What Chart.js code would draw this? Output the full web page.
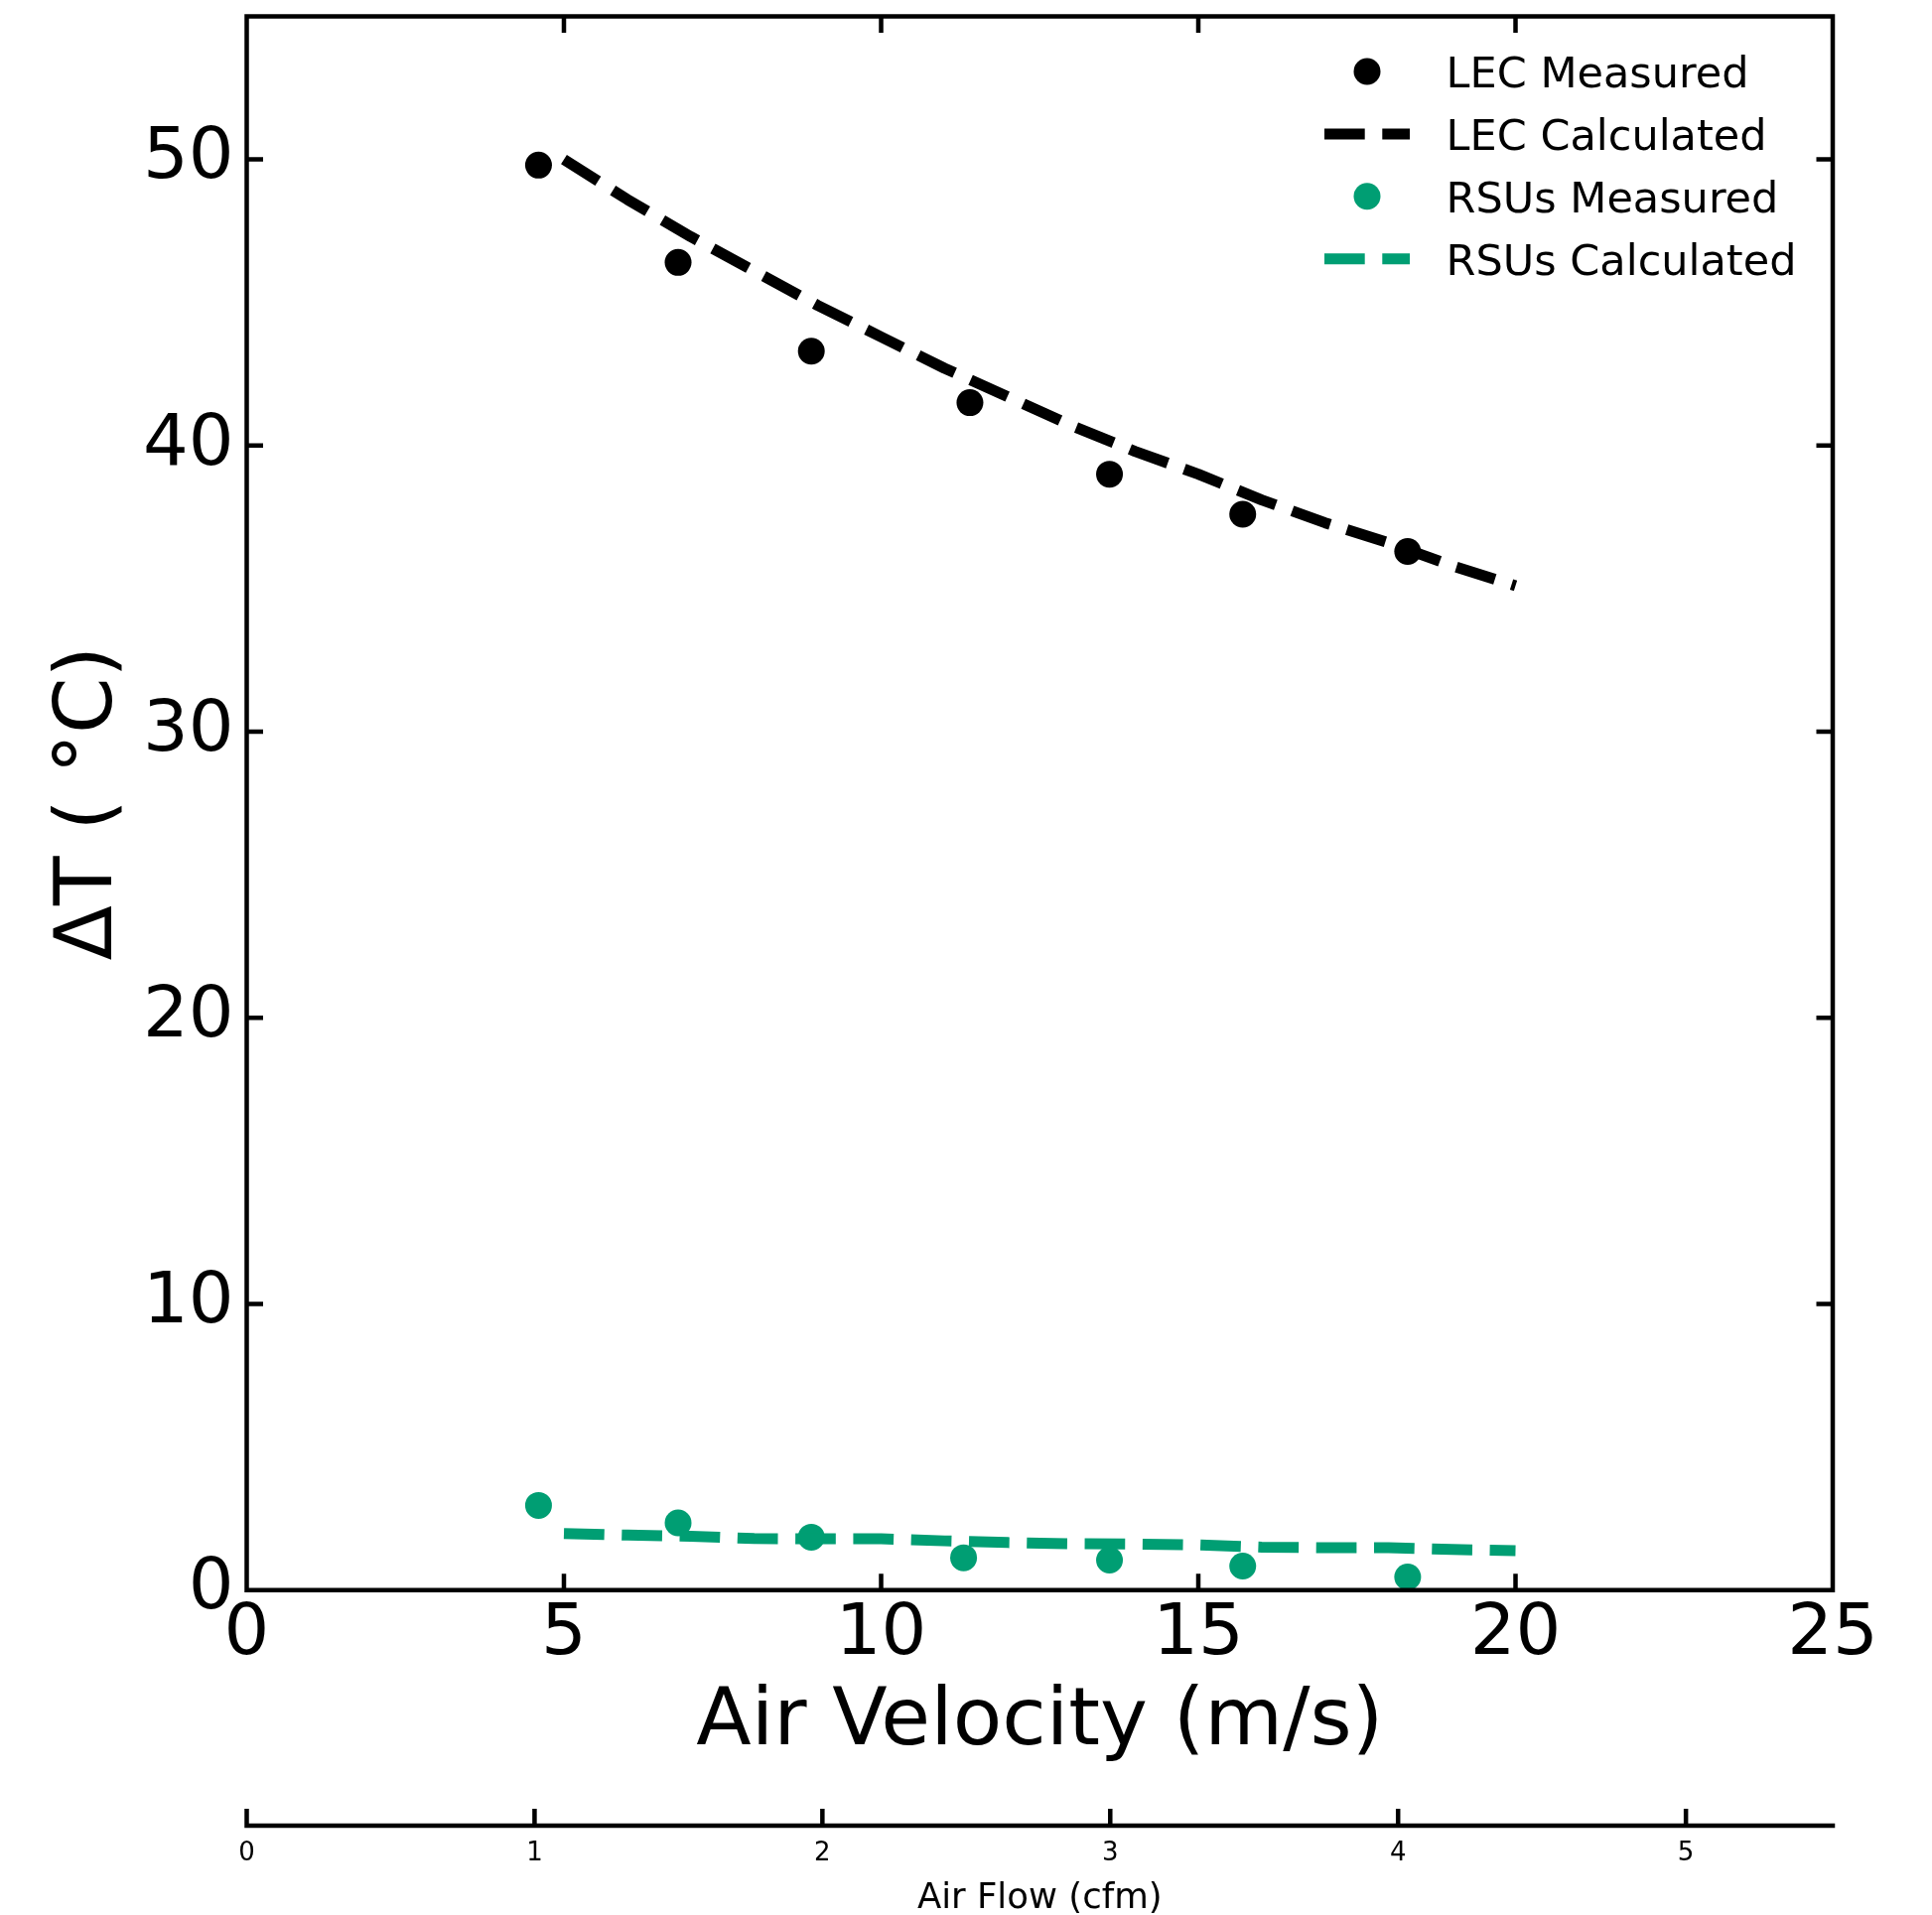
<!DOCTYPE html>
<html>
<head>
<meta charset="utf-8">
<script src="https://cdn.jsdelivr.net/npm/chart.js@4.4.1/dist/chart.umd.min.js"></script>
<style>
html,body{margin:0;padding:0;background:#ffffff;}
canvas{display:block;}
</style>
</head>
<body>
<canvas id="c" width="1946" height="1929"></canvas>
<script>
// ---------------- data ----------------
const lecMeasuredVelocity = [4.6, 6.8, 8.9, 11.4, 13.6, 15.7, 18.3];
const lecMeasured = [49.8, 46.4, 43.3, 41.5, 39.0, 37.6, 36.3];
const rsuMeasuredVelocity = [4.6, 6.8, 8.9, 11.3, 13.6, 15.7, 18.3];
const rsuMeasured = [2.96, 2.35, 1.85, 1.13, 1.05, 0.84, 0.46];
const calcVelocity = [5, 6, 7, 8, 9, 10, 11, 12, 13, 14, 15, 16, 17, 18, 19, 20];
const lecCalculated = [50.0, 48.6, 47.3, 46.1, 44.9, 43.8, 42.7, 41.7, 40.7, 39.8, 39.0, 38.1, 37.3, 36.6, 35.8, 35.1];
const rsuCalculated = [1.98, 1.92, 1.88, 1.80, 1.79, 1.79, 1.72, 1.66, 1.62, 1.61, 1.58, 1.50, 1.48, 1.48, 1.42, 1.38];
const seriesLabels = ['LEC Measured', 'LEC Calculated', 'RSUs Measured', 'RSUs Calculated'];
const xTitle = 'Air Velocity (m/s)';
const yTitle = 'ΔT ( °C)';
const x2Title = 'Air Flow (cfm)';
const xRange = [0, 25], xStep = 5;
const yRange = [0, 55], yStep = 10;
const x2Range = [0, 5.51], x2Step = 1;

// ---------------- styles ----------------
const FONT = "'DejaVu Sans', sans-serif";
const BLACK = '#000000';
const GREEN = '#009E73';
const SPINE = 4.5;
const TICK = 16.5;
const DASH = [40.7, 17.6];

function pts(xs, ys) { return xs.map((x, i) => ({x: x, y: ys[i]})); }

const frame = {
  id: 'frame',
  afterDraw(chart) {
    const {ctx, chartArea: a, scales} = chart;
    ctx.save();
    ctx.strokeStyle = BLACK;
    ctx.lineWidth = SPINE;
    ctx.lineCap = 'butt';
    ctx.setLineDash([]);
    ctx.beginPath();
    ctx.moveTo(a.left - SPINE / 2, a.top); ctx.lineTo(a.right + SPINE / 2, a.top);
    ctx.moveTo(a.left - SPINE / 2, a.bottom); ctx.lineTo(a.right + SPINE / 2, a.bottom);
    ctx.moveTo(a.left, a.top); ctx.lineTo(a.left, a.bottom);
    ctx.moveTo(a.right, a.top); ctx.lineTo(a.right, a.bottom);
    scales.x.ticks.forEach(t => {
      const px = scales.x.getPixelForValue(t.value);
      ctx.moveTo(px, a.bottom); ctx.lineTo(px, a.bottom - TICK);
      ctx.moveTo(px, a.top); ctx.lineTo(px, a.top + TICK);
    });
    scales.y.ticks.forEach(t => {
      const py = scales.y.getPixelForValue(t.value);
      ctx.moveTo(a.left, py); ctx.lineTo(a.left + TICK, py);
      ctx.moveTo(a.right, py); ctx.lineTo(a.right - TICK, py);
    });
    const x2 = scales.x2;
    const ly = x2.top;
    ctx.moveTo(a.left - SPINE / 2, ly); ctx.lineTo(a.right + SPINE / 2, ly);
    x2.ticks.forEach(t => {
      const px = x2.getPixelForValue(t.value);
      ctx.moveTo(px, ly); ctx.lineTo(px, ly - 17);
    });
    ctx.stroke();

    // legend
    const sampleL = a.right - 512, sampleR = a.right - 426, textX = a.right - 389.4;
    ctx.font = '43px ' + FONT;
    ctx.textBaseline = 'alphabetic';
    ctx.textAlign = 'left';
    chart.data.datasets.forEach((ds, i) => {
      const base = 88 + 62.9 * i;
      const cy = base - 16;
      if (ds.showLine) {
        ctx.save();
        ctx.strokeStyle = ds.borderColor;
        ctx.lineWidth = ds.borderWidth;
        ctx.setLineDash(ds.borderDash);
        ctx.beginPath();
        ctx.moveTo(sampleL, cy); ctx.lineTo(sampleR, cy);
        ctx.stroke();
        ctx.restore();
      } else {
        ctx.fillStyle = ds.pointBackgroundColor;
        ctx.beginPath();
        ctx.arc((sampleL + sampleR) / 2, cy, ds.pointRadius, 0, Math.PI * 2);
        ctx.fill();
      }
      ctx.fillStyle = BLACK;
      ctx.fillText(ds.label, textX, base);
    });
    ctx.restore();
  }
};

new Chart(document.getElementById('c'), {
  type: 'scatter',
  data: {
    datasets: [
      {label: seriesLabels[0], data: pts(lecMeasuredVelocity, lecMeasured), showLine: false,
       pointRadius: 13.5, pointBackgroundColor: BLACK, pointBorderWidth: 0, borderColor: BLACK, order: 4},
      {label: seriesLabels[1], data: pts(calcVelocity, lecCalculated), showLine: true,
       pointRadius: 0, borderColor: BLACK, borderWidth: 11, borderDash: DASH, borderCapStyle: 'butt',
       borderJoinStyle: 'round', tension: 0, order: 3},
      {label: seriesLabels[2], data: pts(rsuMeasuredVelocity, rsuMeasured), showLine: false,
       pointRadius: 13.5, pointBackgroundColor: GREEN, pointBorderWidth: 0, borderColor: GREEN, order: 2},
      {label: seriesLabels[3], data: pts(calcVelocity, rsuCalculated), showLine: true,
       pointRadius: 0, borderColor: GREEN, borderWidth: 11, borderDash: DASH, borderCapStyle: 'butt',
       borderJoinStyle: 'round', tension: 0, order: 1}
    ]
  },
  options: {
    responsive: false,
    animation: false,
    devicePixelRatio: 1,
    layout: {padding: {top: 16.5, right: 100, bottom: 0, left: 0}},
    plugins: {legend: {display: false}, tooltip: {enabled: false}},
    scales: {
      x: {
        type: 'linear', position: 'bottom', weight: 0,
        min: xRange[0], max: xRange[1],
        grid: {display: false, drawTicks: false},
        border: {display: false},
        ticks: {stepSize: xStep, includeBounds: false, color: BLACK, padding: 2, maxRotation: 0,
                font: {family: FONT, size: 72}},
        title: {display: true, text: xTitle, color: BLACK, font: {family: FONT, size: 81},
                padding: {top: 0, bottom: 54}},
        afterFit(s) { s.height = 237.3; s.paddingLeft = 0; s.paddingRight = 0; }
      },
      x2: {
        type: 'linear', position: 'bottom', axis: 'x', weight: 1,
        min: x2Range[0], max: x2Range[1],
        grid: {display: false, drawTicks: false},
        border: {display: false},
        ticks: {stepSize: x2Step, includeBounds: false, color: BLACK, padding: 13, maxRotation: 0,
                font: {family: FONT, size: 26}},
        title: {display: true, text: x2Title, color: BLACK, font: {family: FONT, size: 35.5},
                padding: {top: 0, bottom: -5}},
        afterFit(s) { s.height = 90; s.paddingLeft = 0; s.paddingRight = 0; }
      },
      y: {
        type: 'linear', position: 'left',
        min: yRange[0], max: yRange[1],
        grid: {display: false, drawTicks: false},
        border: {display: false},
        ticks: {stepSize: yStep, includeBounds: false, color: BLACK, padding: 13,
                font: {family: FONT, size: 72}},
        title: {display: true, text: yTitle, color: BLACK, font: {family: FONT, size: 81},
                padding: {top: 42, bottom: 0}},
        afterFit(s) { s.width = 248.5; s.paddingTop = 0; s.paddingBottom = 0; }
      }
    }
  },
  plugins: [frame]
});
</script>
</body>
</html>
